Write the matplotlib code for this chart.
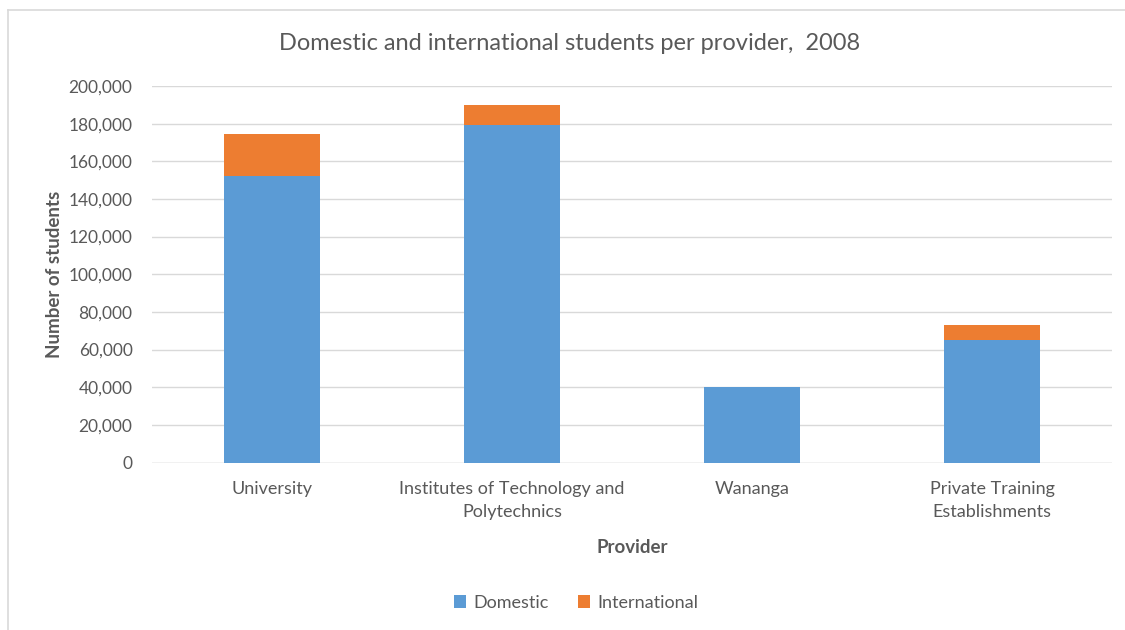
import matplotlib
matplotlib.use("Agg")
import matplotlib.pyplot as plt
from matplotlib.ticker import FuncFormatter
from matplotlib.lines import Line2D
import numpy as np

providers = ["University", "Institutes of Technology and\nPolytechnics", "Wananga",
             "Private Training\nEstablishments"]
domestic = [152300, 179500, 40000, 65200]
international = [22100, 10600, 0, 7900]
yticks = list(range(0, 200001, 20000))

BLUE = "#5B9BD5"
ORANGE = "#ED7D31"
TXT = "#595959"
GRID = "#D9D9D9"

plt.rcParams["font.family"] = ["Lato", "DejaVu Sans"]

fig = plt.figure(figsize=(11.25, 6.3), dpi=100)
ax = fig.add_axes([152 / 1125, 1 - 462.5 / 630, 960 / 1125, 376.5 / 630])

x = np.arange(len(providers))
ax.bar(x, domestic, width=0.4, color=BLUE, label="Domestic", zorder=3)
ax.bar(x, international, width=0.4, bottom=domestic, color=ORANGE,
       label="International", zorder=3)

ax.set_xlim(-0.5, len(providers) - 0.5)
ax.set_ylim(0, 200000)
ax.set_yticks(yticks)
ax.yaxis.set_major_formatter(FuncFormatter(lambda v, p: f"{int(v):,}"))
ax.set_xticks(x)
ax.set_xticklabels(providers, fontsize=13, color=TXT, linespacing=1.55)
ax.tick_params(axis="y", labelsize=12.5, labelcolor=TXT, length=0, pad=14)
ax.tick_params(axis="x", length=0, pad=13)
ax.grid(axis="y", color=GRID, linewidth=1, zorder=0)
for s in ax.spines.values():
    s.set_visible(False)
ax.axhline(0, color=GRID, linewidth=1, zorder=2)

ax.set_ylabel("Number of students", fontsize=13.5, fontweight="bold", color=TXT, labelpad=4)
ax.set_xlabel("Provider", fontsize=13.5, fontweight="bold", color=TXT, labelpad=14)

fig.text(0.506, 1 - 44 / 630, "Domestic and international students per provider,  2008",
         ha="center", va="center", fontsize=17, color=TXT)

leg = fig.legend(loc="center", bbox_to_anchor=(0.512, 1 - 603 / 630), ncol=2,
                 frameon=False, fontsize=13, handlelength=0.7, handleheight=0.7,
                 handletextpad=0.4, columnspacing=1.6)
for t in leg.get_texts():
    t.set_color(TXT)

# chart frame (top and left edges)
fig.add_artist(Line2D([8 / 1125, 1], [1 - 10 / 630, 1 - 10 / 630], color=GRID, linewidth=1.2,
                      transform=fig.transFigure))
fig.add_artist(Line2D([8 / 1125, 8 / 1125], [0, 1 - 10 / 630], color=GRID, linewidth=1.2,
                      transform=fig.transFigure))

fig.savefig("out.png", dpi=100, facecolor="white")
